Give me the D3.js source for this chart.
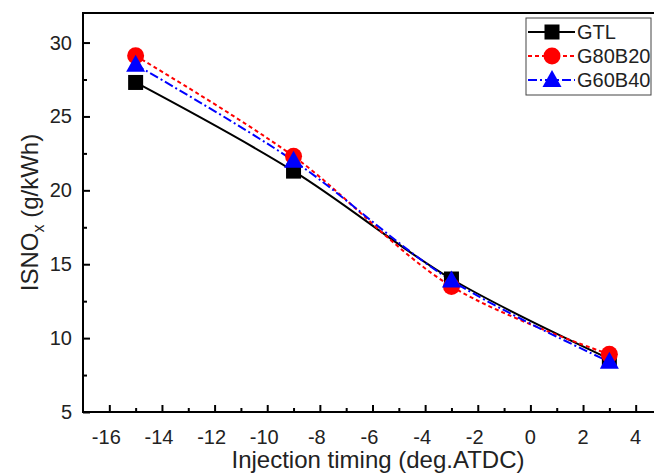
<!DOCTYPE html>
<html lang="en">
<head>
    <meta charset="UTF-8">
    <title>ISNOx vs injection timing</title>
    <script src="https://d3js.org/d3.v7.min.js"></script>
    <style>
        body { margin: 0; padding: 0; background: #fff; }
        text { font-family: Arial, "Liberation Sans", sans-serif; fill: #222; }
    </style>
</head>
<body>
    <script>
        // values
        const timing = [-15, -9, -3, 3];
        const gtl = [27.3, 21.3, 14.0, 8.6];
        const g80b20 = [29.1, 22.3, 13.5, 8.9];
        const g60b40 = [28.5, 22.0, 13.9, 8.4];
        const seriesNames = ['GTL', 'G80B20', 'G60B40'];
        const xTicks = [-16, -14, -12, -10, -8, -6, -4, -2, 0, 2, 4];
        const yTicks = [5, 10, 15, 20, 25, 30];

        const width = 654, height = 475;
        const margin = { left: 83, top: 13, right: -8, bottom: 63 };

        const svg = d3.select('body').append('svg')
            .attr('width', width)
            .attr('height', height);

        const x = d3.scaleLinear().domain([-17, 5]).range([margin.left, width - margin.right]);
        const y = d3.scaleLinear().domain([5, 32]).range([height - margin.bottom, margin.top]);

        const styles = [
            { color: '#000', dash: null, marker: 'square', values: gtl },
            { color: '#ff0000', dash: '4,3', marker: 'circle', values: g80b20 },
            { color: '#0000ff', dash: '9,3,2,3', marker: 'triangle', values: g60b40 }
        ];

        // ticks pointing inward
        const xAxis = d3.axisTop(x).tickValues(xTicks).tickSize(7).tickFormat('');
        const xMinor = d3.axisTop(x).tickValues(d3.range(-15, 6, 2)).tickSize(4).tickFormat('');
        const yAxis = d3.axisRight(y).tickValues(yTicks).tickSize(7).tickFormat('');
        const yMinor = d3.axisRight(y).tickValues(d3.range(7.5, 32, 5)).tickSize(4).tickFormat('');

        const bottomY = y(5);
        [xAxis, xMinor].forEach(ax => {
            svg.append('g').attr('transform', `translate(0,${bottomY})`).call(ax)
                .call(g => g.select('.domain').remove())
                .selectAll('line').attr('stroke', '#000').attr('stroke-width', 2);
        });
        [yAxis, yMinor].forEach(ax => {
            svg.append('g').attr('transform', `translate(${margin.left},0)`).call(ax)
                .call(g => g.select('.domain').remove())
                .selectAll('line').attr('stroke', '#000').attr('stroke-width', 2);
        });

        // frame
        svg.append('path')
            .attr('d', `M${width + 5},${y(32)}H${x(-17)}V${bottomY}H${width + 5}`)
            .attr('fill', 'none').attr('stroke', '#000').attr('stroke-width', 2);

        // tick labels
        svg.append('g').selectAll('text').data(xTicks).enter().append('text')
            .attr('x', d => x(d) - (d < 0 ? 3 : 0))
            .attr('y', bottomY + 32)
            .attr('text-anchor', 'middle')
            .attr('font-size', 20)
            .text(d => d);

        svg.append('g').selectAll('text').data(yTicks).enter().append('text')
            .attr('x', margin.left - 11)
            .attr('y', d => y(d) + 7)
            .attr('text-anchor', 'end')
            .attr('font-size', 20)
            .text(d => d);

        // axis titles
        svg.append('text')
            .attr('x', 378).attr('y', 468)
            .attr('text-anchor', 'middle')
            .attr('font-size', 24)
            .text('Injection timing (deg.ATDC)');

        const yTitle = svg.append('text')
            .attr('transform', `translate(38,${(margin.top + bottomY) / 2}) rotate(-90)`)
            .attr('text-anchor', 'middle')
            .attr('font-size', 24);
        yTitle.append('tspan').text('ISNO');
        yTitle.append('tspan').attr('font-size', 16).attr('dy', 6).text('x');
        yTitle.append('tspan').attr('dy', -6).text(' (g/kWh)');

        function drawMarker(g, type, color, cx, cy) {
            if (type === 'square') {
                g.append('rect').attr('x', cx - 7.5).attr('y', cy - 7.5)
                    .attr('width', 15).attr('height', 15).attr('fill', color);
            } else if (type === 'circle') {
                g.append('circle').attr('cx', cx).attr('cy', cy).attr('r', 8.5).attr('fill', color);
            } else {
                g.append('path')
                    .attr('d', `M${cx},${cy - 10}L${cx + 9.5},${cy + 7}L${cx - 9.5},${cy + 7}Z`)
                    .attr('fill', color);
            }
        }

        const line = d3.line().x(d => x(d[0])).y(d => y(d[1])).curve(d3.curveCatmullRom);

        const plot = svg.append('g');
        styles.forEach(s => {
            const pts = timing.map((t, i) => [t, s.values[i]]);
            plot.append('path')
                .attr('d', line(pts))
                .attr('fill', 'none')
                .attr('stroke', s.color)
                .attr('stroke-width', 2)
                .attr('stroke-dasharray', s.dash);
        });
        styles.forEach(s => {
            const g = plot.append('g');
            timing.forEach((t, i) => drawMarker(g, s.marker, s.color, x(t), y(s.values[i])));
        });

        // legend
        const legend = svg.append('g');
        legend.append('rect')
            .attr('x', 526).attr('y', 18).attr('width', 125).attr('height', 77)
            .attr('fill', '#fff').attr('stroke', '#444').attr('stroke-width', 1);
        styles.forEach((s, i) => {
            const ly = 32 + i * 24;
            legend.append('line')
                .attr('x1', 528).attr('x2', 575).attr('y1', ly).attr('y2', ly)
                .attr('stroke', s.color).attr('stroke-width', 2)
                .attr('stroke-dasharray', s.dash);
            drawMarker(legend, s.marker, s.color, 552, ly);
            legend.append('text')
                .attr('x', 577).attr('y', ly + 7)
                .attr('font-size', 20)
                .text(seriesNames[i]);
        });
    </script>
</body>
</html>
